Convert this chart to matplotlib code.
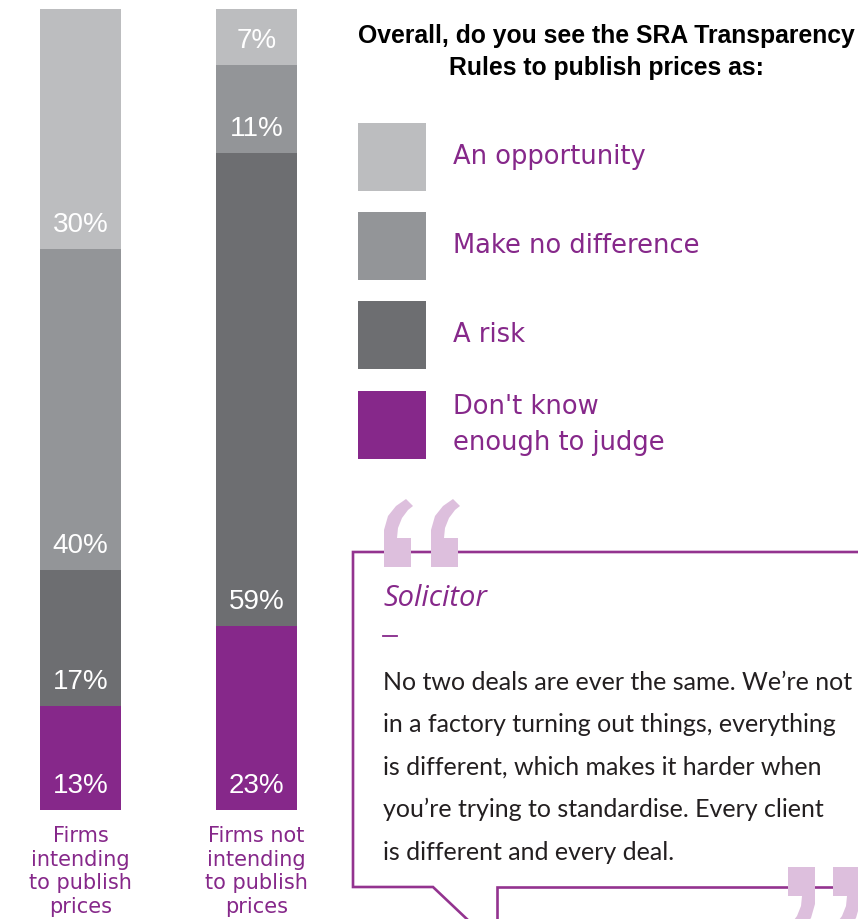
"""
    Stacked bar chart: views on the SRA Transparency Rules, with legend and quote box.
"""
########################################################################################################################
# Imports
########################################################################################################################

import matplotlib
matplotlib.use("Agg")
import matplotlib.pyplot as plt
from matplotlib.patches import Polygon, Rectangle

########################################################################################################################
# Data
########################################################################################################################

groups = ["Firms\nintending\nto publish\nprices", "Firms not\nintending\nto publish\nprices"]
categories = ["Don't know\nenough to judge", "A risk", "Make no difference", "An opportunity"]
dont_know = [13, 23]
risk = [17, 59]
no_difference = [40, 11]
opportunity = [30, 7]

title = "Overall, do you see the SRA Transparency\nRules to publish prices as:"
quote_author = "Solicitor"
quote_lines = [
    "No two deals are ever the same. We\u2019re not",
    "in a factory turning out things, everything",
    "is different, which makes it harder when",
    "you\u2019re trying to standardise. Every client",
    "is different and every deal.",
]

########################################################################################################################
# Style
########################################################################################################################

W, H = 858, 919
PURPLE = "#86288A"
LINE_PURPLE = "#93338F"
QUOTE_PINK = "#DDBFDD"
colors = ["#86288A", "#6D6E71", "#939598", "#BCBDBF"]


def px(x0, y0, w, h):
    """Convert a pixel box (top-left origin) to figure fractions."""
    return [x0 / W, 1 - (y0 + h) / H, w / W, h / H]


def quote_mark(ax, x0, y0, flip=False):
    """Draw a single block quote mark with its top-left at (x0, y0) in pixels."""
    pts = [(0, 67), (27, 67), (27, 38), (13, 38), (14, 28), (18, 18), (24, 10), (29, 6),
           (22, -1), (12, 6), (4, 16), (0, 30)]
    if flip:
        pts = [(27 - x, 67 - y) for x, y in pts]
    ax.add_patch(Polygon([(x0 + x, y0 + y) for x, y in pts], closed=True,
                         facecolor=QUOTE_PINK, edgecolor="none", zorder=5))


def main():
    fig = plt.figure(figsize=(W / 100, H / 100), dpi=100)

    # ---- stacked bars ----
    ax = fig.add_axes(px(40, 9, 257, 801))
    xs = [0, 1]
    width = 81 / 176
    series = [dont_know, risk, no_difference, opportunity]
    bottom = [0, 0]
    for vals, col in zip(series, colors):
        ax.bar(xs, vals, width=width, bottom=bottom, color=col, linewidth=0)
        for x, v, b in zip(xs, vals, bottom):
            ax.text(x, b + 3.0, f"{v}%", ha="center", va="center", color="white",
                    fontsize=20, family="Liberation Sans")
        bottom = [b + v for b, v in zip(bottom, vals)]
    ax.set_xlim(-0.23, 1.23)
    ax.set_ylim(0, 100)
    ax.axis("off")
    for x, g in zip(xs, groups):
        ax.text(x, -2.0, g, ha="center", va="top", color=PURPLE, fontsize=15,
                family="DejaVu Sans", linespacing=1.22)

    # ---- overlay: legend + quote ----
    ov = fig.add_axes([0, 0, 1, 1], facecolor="none")
    ov.set_xlim(0, W)
    ov.set_ylim(H, 0)
    ov.axis("off")

    ov.text(606, 52, title, ha="center", va="center", fontsize=17.8, fontweight="bold",
            family="Liberation Sans", linespacing=1.45, color="black")

    box_tops = [123, 212, 301, 391]
    for top, col, lab in zip(box_tops, colors[::-1], categories[::-1]):
        ov.add_patch(Rectangle((358, top), 68, 68, facecolor=col, edgecolor="none"))
        ov.text(453, top + 34, lab, ha="left", va="center", color=PURPLE, fontsize=18.5,
                family="DejaVu Sans", linespacing=1.45)

    # speech bubble outline
    ov.plot([W + 5, 353, 353, 433, 470], [552, 552, 887, 887, 922], color=LINE_PURPLE,
            lw=1.9, solid_joinstyle="miter", clip_on=False)
    ov.plot([497, 497, W + 5], [922, 887, 887], color=LINE_PURPLE,
            lw=1.9, solid_joinstyle="miter", clip_on=False)
    quote_mark(ov, 384, 500)
    quote_mark(ov, 431, 500)
    quote_mark(ov, 788, 867, flip=True)
    quote_mark(ov, 833, 867, flip=True)

    ov.text(383, 598, quote_author, ha="left", va="center", color=PURPLE, fontsize=21,
            style="italic", family="Open Sans")
    ov.plot([383, 397], [636, 636], color=PURPLE, lw=1.3)
    for i, line in enumerate(quote_lines):
        ov.text(383, 682 + i * 42.5, line, ha="left", va="center", color="#231F20",
                fontsize=18, family="Lato")

    fig.savefig("out.png", dpi=100)


if __name__ == "__main__":
    main()
